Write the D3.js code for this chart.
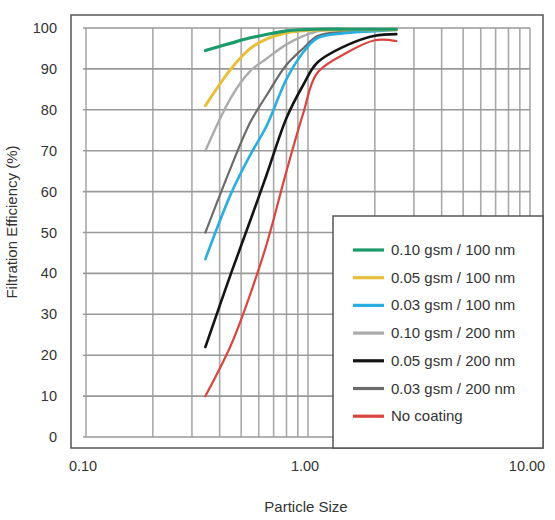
<!DOCTYPE html>
<html>
<head>
<meta charset="utf-8">
<script src="https://d3js.org/d3.v7.min.js"></script>
<style>
    body { margin: 0; background: #fff; }
    text { font-family: "Liberation Sans", Arial, sans-serif; fill: #333; }
</style>
</head>
<body>
<div id="chart"></div>
<script>

    // particle sizes the curves were read at
    var sizes = [0.345, 0.45, 0.55, 0.65, 0.8, 0.95, 1.1, 1.5, 2.0, 2.5];

    // filtration efficiency (%) per coating
    var green100 = [94.5, 96.3, 97.6, 98.4, 99.3, 99.6, 99.7, 99.7, 99.7, 99.7];
    var yellow100 = [81, 90, 95, 97.3, 98.8, 99.3, 99.5, 99.6, 99.6, 99.6];
    var cyan100 = [43.5, 59.5, 69, 76, 87.5, 94, 97.5, 98.8, 99.2, 99.5];
    var lgray200 = [70, 83, 89.5, 92.5, 96, 98, 99.2, 99.5, 99.6, 99.6];
    var black200 = [22, 40, 53, 64, 78, 86, 91.5, 95.8, 98.1, 98.5];
    var dgray200 = [50, 66, 77, 83.5, 91, 95, 98, 99.2, 99.5, 99.6];
    var noCoating = [10, 22.5, 35, 47, 65, 79, 89, 94, 97, 96.8];

    var seriesNames = ["0.10 gsm / 100 nm", "0.05 gsm / 100 nm", "0.03 gsm / 100 nm",
        "0.10 gsm / 200 nm", "0.05 gsm / 200 nm", "0.03 gsm / 200 nm", "No coating"];
    var seriesValues = [green100, yellow100, cyan100, lgray200, black200, dgray200, noCoating];
    var colors = ["#1b9a6b", "#e8bf3a", "#2aaee0", "#ababab", "#141414", "#6a6a6a", "#d9453f"];
    var widths = [3.2, 3, 2.6, 2.4, 2.6, 2.2, 2.2];

    var xTicks = [0.1, 1, 10];
    var yTicks = [0, 10, 20, 30, 40, 50, 60, 70, 80, 90, 100];

    var W = 555, H = 520;

    var svg = d3.select("#chart")
        .append("svg")
        .attr("width", W)
        .attr("height", H);

    var x = d3.scaleLog().domain([0.1, 10]).range([86, 530]);
    var y = d3.scaleLinear().domain([0, 100]).range([437, 28]);

    // grid lines at every 0.1 / 1 step on the log axis
    var xGrid = [];
    [0.1, 1].forEach(function (d) {
        for (var k = 1; k <= 9; k++) xGrid.push(+(d * k).toFixed(2));
    });
    xGrid.push(10);

    var grid = svg.append("g").attr("stroke", "#a9a9a9").attr("stroke-width", 1.6);
    grid.selectAll(".vg")
        .data(xGrid)
        .enter().append("line")
        .attr("x1", function (d) { return x(d); })
        .attr("x2", function (d) { return x(d); })
        .attr("y1", y(100))
        .attr("y2", y(0));
    grid.selectAll(".hg")
        .data(yTicks)
        .enter().append("line")
        .attr("x1", x(0.1) - 3)
        .attr("x2", x(10))
        .attr("y1", function (d) { return y(d); })
        .attr("y2", function (d) { return y(d); })
        .attr("stroke", "#999");

    // outer frame
    svg.append("rect")
        .attr("x", 71).attr("y", 15)
        .attr("width", 472).attr("height", 433)
        .attr("fill", "none")
        .attr("stroke", "#555")
        .attr("stroke-width", 1.5);

    // curves
    var line = d3.line()
        .x(function (d) { return x(d[0]); })
        .y(function (d) { return y(d[1]); })
        .curve(d3.curveCatmullRom.alpha(0.5));

    seriesValues.slice().reverse().forEach(function (vals, ri) {
        var i = seriesValues.length - 1 - ri;
        svg.append("path")
            .datum(sizes.map(function (s, j) { return [s, vals[j]]; }))
            .attr("fill", "none")
            .attr("stroke", colors[i])
            .attr("stroke-width", widths[i])
            .attr("stroke-linecap", "round")
            .attr("d", line);
    });

    // axes labels
    svg.append("g").selectAll("text")
        .data(yTicks)
        .enter().append("text")
        .attr("x", 57)
        .attr("y", function (d) { return y(d) + 5; })
        .attr("text-anchor", "end")
        .style("font-size", "14.5px")
        .text(function (d) { return d; });

    svg.append("g").selectAll("text")
        .data(xTicks)
        .enter().append("text")
        .attr("x", function (d) { return x(d) - 3; })
        .attr("y", 471)
        .attr("text-anchor", "middle")
        .style("font-size", "14.5px")
        .text(function (d) { return d3.format(".2f")(d); });

    svg.append("text")
        .attr("x", 306)
        .attr("y", 512)
        .attr("text-anchor", "middle")
        .style("font-size", "15px")
        .text("Particle Size");

    svg.append("text")
        .attr("transform", "translate(17,222) rotate(-90)")
        .attr("text-anchor", "middle")
        .style("font-size", "15px")
        .text("Filtration Efficiency (%)");

    // legend box
    var lg = svg.append("g");
    lg.append("rect")
        .attr("x", 333).attr("y", 216)
        .attr("width", 210).attr("height", 232)
        .attr("fill", "#fff")
        .attr("stroke", "#555")
        .attr("stroke-width", 1.5);

    var rows = lg.selectAll(".row")
        .data(seriesNames)
        .enter().append("g")
        .attr("transform", function (d, i) { return "translate(0," + (250 + i * 27.7) + ")"; });
    rows.append("line")
        .attr("x1", 353).attr("x2", 384)
        .attr("stroke", function (d, i) { return colors[i]; })
        .attr("stroke-width", 3.2);
    rows.append("text")
        .attr("x", 391)
        .attr("y", 5)
        .style("font-size", "15px")
        .text(function (d) { return d; });

</script>
</body>
</html>
